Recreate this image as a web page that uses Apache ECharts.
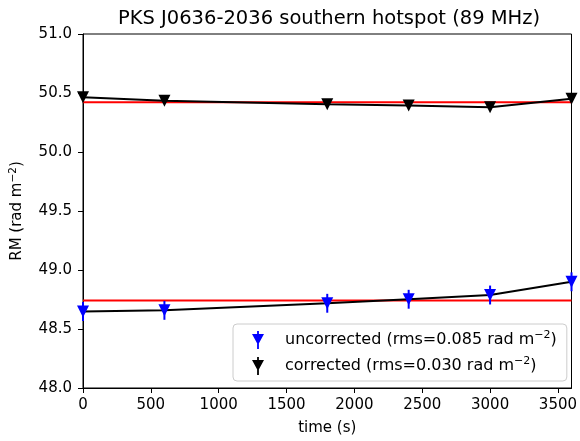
<!DOCTYPE html>
<html>
<head>
<meta charset="utf-8">
<script src="https://cdn.jsdelivr.net/npm/echarts@6/dist/echarts.min.js"></script>
<style>html,body{margin:0;padding:0;background:#fff}#c{width:580px;height:441px}</style>
</head>
<body>
<div id="c"></div>
<script>
// Data
const times = [0, 600, 1800, 2400, 3000, 3600];
const uncorrected = [48.648, 48.658, 48.718, 48.752, 48.788, 48.900];
const corrected = [50.465, 50.435, 50.405, 50.395, 50.380, 50.452];
const uncorrectedErr = [0.08, 0.08, 0.08, 0.08, 0.08, 0.08];
const correctedErr = [0.015, 0.015, 0.015, 0.015, 0.015, 0.015];
const uncorrectedMean = 48.742;
const correctedMean = 50.421;
const xTicks = [0, 500, 1000, 1500, 2000, 2500, 3000, 3500];
const yTicks = [48.0, 48.5, 49.0, 49.5, 50.0, 50.5, 51.0];

const FONT = 'DejaVu Sans';
const pts = (ys) => times.map((t, i) => [t, ys[i]]);
const errPts = (ys, es) => times.map((t, i) => [t, ys[i] - es[i], ys[i] + es[i]]);

const downTri = 'path://M0,0 L12,0 L6,12 Z';
const legendIcon = 'path://M0,5 L12,5 L6,16 Z M5.1,2 L6.9,2 L6.9,20 L5.1,20 Z';

function errRender(color) {
  return function (params, api) {
    const x = api.value(0);
    const p1 = api.coord([x, api.value(1)]);
    const p2 = api.coord([x, api.value(2)]);
    return {
      type: 'line',
      shape: { x1: p1[0], y1: p1[1], x2: p2[0], y2: p2[1] },
      style: { stroke: color, lineWidth: 2 }
    };
  };
}

const richLegend = {
  a: { fontFamily: FONT, fontSize: 16, color: '#000', lineHeight: 20 },
  sup: { fontFamily: FONT, fontSize: 11, color: '#000', verticalAlign: 'top', lineHeight: 16 }
};
const richAxis = {
  a: { fontFamily: FONT, fontSize: 15, color: '#000', lineHeight: 19 },
  sup: { fontFamily: FONT, fontSize: 10.5, color: '#000', verticalAlign: 'top', lineHeight: 15 }
};

const chart = echarts.init(document.getElementById('c'), null, { renderer: 'canvas' });
chart.setOption({
  animation: false,
  backgroundColor: '#fff',
  title: {
    text: 'PKS J0636-2036 southern hotspot (89 MHz)',
    left: 324, textAlign: 'center', top: 4,
    textStyle: { fontFamily: FONT, fontSize: 19.5, fontWeight: 'normal', color: '#000' }
  },
  grid: { left: 82, right: 4, top: 34, bottom: 48, show: true, borderColor: '#000', borderWidth: 1, backgroundColor: 'transparent' },
  xAxis: {
    type: 'value', min: 0, max: 3600, interval: 500,
    name: 'time (s)', nameLocation: 'middle', nameGap: 33,
    nameTextStyle: { fontFamily: FONT, fontSize: 15, color: '#000' },
    axisLine: { show: true, lineStyle: { color: '#000', width: 1 } },
    axisTick: { show: true, length: 5, lineStyle: { color: '#000' } },
    axisLabel: { fontFamily: FONT, fontSize: 15, color: '#000', margin: 10, showMaxLabel: false,
      formatter: (v) => xTicks.includes(v) ? String(v) : '' },
    splitLine: { show: false }
  },
  yAxis: {
    type: 'value', min: 48, max: 51, interval: 0.5,
    name: '{a|RM (rad m}{sup|−2}{a|)}', nameLocation: 'middle', nameGap: 56, nameRotate: 90,
    nameTextStyle: { fontFamily: FONT, fontSize: 15, color: '#000', rich: richAxis },
    axisLine: { show: true, lineStyle: { color: '#000', width: 1 } },
    axisTick: { show: true, length: 5, lineStyle: { color: '#000' } },
    axisLabel: { fontFamily: FONT, fontSize: 15, color: '#000', margin: 11,
      formatter: (v) => yTicks.some(t => Math.abs(t - v) < 1e-9) ? v.toFixed(1) : '' },
    splitLine: { show: false }
  },
  legend: {
    orient: 'vertical', left: 233, top: 324,
    padding: [6, 10, 6, 19], itemGap: 7, itemWidth: 12, itemHeight: 20,
    backgroundColor: 'rgba(255,255,255,0.8)', borderColor: '#cccccc', borderWidth: 1, borderRadius: 4,
    data: [
      { name: 'uncorrected', icon: legendIcon, itemStyle: { color: '#0000ff' } },
      { name: 'corrected', icon: legendIcon, itemStyle: { color: '#000000' } }
    ],
    formatter: (name) => name === 'uncorrected'
      ? '{a|uncorrected (rms=0.085 rad m}{sup|−2}{a|)}'
      : '{a|corrected (rms=0.030 rad m}{sup|−2}{a|)}',
    textStyle: { fontFamily: FONT, fontSize: 16, color: '#000', padding: [0, 0, 0, 16], rich: richLegend }
  },
  series: [
    { type: 'line', name: 'mean_u', data: [[0, uncorrectedMean], [3600, uncorrectedMean]], symbol: 'none',
      lineStyle: { color: '#ff0000', width: 2 }, z: 2, silent: true },
    { type: 'line', name: 'mean_c', data: [[0, correctedMean], [3600, correctedMean]], symbol: 'none',
      lineStyle: { color: '#ff0000', width: 2 }, z: 2, silent: true },
    { type: 'line', name: 'fit_u', data: pts(uncorrected), symbol: 'none',
      lineStyle: { color: '#000', width: 2 }, z: 3, silent: true },
    { type: 'line', name: 'fit_c', data: pts(corrected), symbol: 'none',
      lineStyle: { color: '#000', width: 2 }, z: 3, silent: true },
    { type: 'scatter', name: 'uncorrected', data: pts(uncorrected), symbol: downTri, symbolSize: 12,
      itemStyle: { color: '#0000ff', opacity: 1 }, z: 5 },
    { type: 'custom', name: 'uncorrected', data: errPts(uncorrected, uncorrectedErr),
      renderItem: errRender('#0000ff'), z: 4, encode: { x: 0, y: [1, 2] } },
    { type: 'scatter', name: 'corrected', data: pts(corrected), symbol: downTri, symbolSize: 12,
      itemStyle: { color: '#000000', opacity: 1 }, z: 5 },
    { type: 'custom', name: 'corrected', data: errPts(corrected, correctedErr),
      renderItem: errRender('#000000'), z: 4, encode: { x: 0, y: [1, 2] } }
  ]
});
</script>
</body>
</html>
